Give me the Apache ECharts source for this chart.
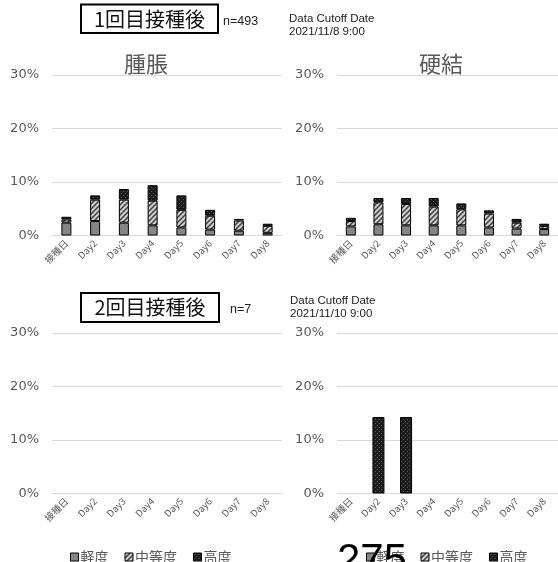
<!DOCTYPE html>
<html>
<head>
<meta charset="utf-8">
<script src="https://cdn.jsdelivr.net/npm/echarts@6/dist/echarts.min.js"></script>
<style>
  html, body { margin: 0; padding: 0; background: #fff; }
  #chart { width: 558px; height: 562px; }
</style>
</head>
<body>
<div id="chart"></div>
<script>
// Days after vaccination
const categories = ['接種日', 'Day2', 'Day3', 'Day4', 'Day5', 'Day6', 'Day7', 'Day8'];
const severityNames = ['軽度', '中等度', '高度'];
const yTicks = [0, 10, 20, 30];

// After 1st dose (n=493), swelling, % of subjects
const dose1SwellMild     = [2.4, 2.7, 2.4, 1.9, 1.5, 1.1, 0.9, 0.5];
const dose1SwellModerate = [0.6, 4.0, 4.3, 4.6, 3.3, 2.6, 1.9, 1.3];
const dose1SwellSevere   = [0.5, 0.8, 2.0, 2.9, 2.7, 1.1, 0.3, 0.4];

// After 1st dose (n=493), induration, %
const dose1IndurMild     = [1.7, 2.1, 1.9, 1.9, 1.9, 1.5, 1.3, 1.2];
const dose1IndurModerate = [1.0, 4.1, 4.0, 3.5, 3.0, 2.6, 1.1, 0.6];
const dose1IndurSevere   = [0.6, 0.8, 1.1, 1.6, 1.1, 0.6, 0.7, 0.4];

// After 2nd dose (n=7), swelling, %
const dose2SwellMild     = [0, 0, 0, 0, 0, 0, 0, 0];
const dose2SwellModerate = [0, 0, 0, 0, 0, 0, 0, 0];
const dose2SwellSevere   = [0, 0, 0, 0, 0, 0, 0, 0];

// After 2nd dose (n=7), induration, %
const dose2IndurMild     = [0, 0, 0, 0, 0, 0, 0, 0];
const dose2IndurModerate = [0, 0, 0, 0, 0, 0, 0, 0];
const dose2IndurSevere   = [0, 14.3, 14.3, 0, 0, 0, 0, 0];

// ---- fill patterns ----
function makePattern(size, draw) {
  const c = document.createElement('canvas');
  c.width = size; c.height = size;
  const g = c.getContext('2d');
  draw(g, size);
  return { image: c, repeat: 'repeat' };
}
const mildFill = makePattern(4, (g, s) => {
  g.fillStyle = '#878787'; g.fillRect(0, 0, s, s);
  g.fillStyle = '#7a7a7a'; g.fillRect(0, 0, 1, 1); g.fillRect(2, 2, 1, 1);
});
const moderateFill = makePattern(5, (g, s) => {
  g.fillStyle = '#cfcfcf'; g.fillRect(0, 0, s, s);
  g.strokeStyle = '#3f3f3f'; g.lineWidth = 1.5;
  g.beginPath();
  g.moveTo(-1, s + 1); g.lineTo(s + 1, -1);
  g.moveTo(-1, 1); g.lineTo(1, -1);
  g.moveTo(s - 1, s + 1); g.lineTo(s + 1, s - 1);
  g.stroke();
});
const severeFill = makePattern(4, (g, s) => {
  g.fillStyle = '#1c1c1c'; g.fillRect(0, 0, s, s);
  g.fillStyle = '#5a5a5a'; g.fillRect(1, 1, 1, 1); g.fillRect(3, 3, 1, 1);
});
const fills = [mildFill, moderateFill, severeFill];

const FONT = '"Noto Sans CJK JP", "Noto Sans", sans-serif';
const GREY = '#595959';

const panels = [
  { left: 52,  top: 75,  bars: [dose1SwellMild, dose1SwellModerate, dose1SwellSevere], barWidth: 10 },
  { left: 337, top: 75,  bars: [dose1IndurMild, dose1IndurModerate, dose1IndurSevere], barWidth: 10 },
  { left: 52,  top: 333, bars: [dose2SwellMild, dose2SwellModerate, dose2SwellSevere], barWidth: 12 },
  { left: 337, top: 333, bars: [dose2IndurMild, dose2IndurModerate, dose2IndurSevere], barWidth: 12 }
];

const grid = [], xAxis = [], yAxis = [], series = [];
panels.forEach((p, i) => {
  grid.push({ left: p.left, top: p.top, width: 230, height: 160.5 });
  xAxis.push({
    type: 'category', gridIndex: i, data: categories,
    axisLine: { lineStyle: { color: '#d9d9d9' } },
    axisTick: { show: false },
    axisLabel: { rotate: 45, color: GREY, fontSize: 9.5, fontFamily: FONT, margin: 6, interval: 0 }
  });
  yAxis.push({
    type: 'value', gridIndex: i, min: yTicks[0], max: yTicks[yTicks.length - 1], interval: 10,
    axisLine: { show: false }, axisTick: { show: false },
    splitLine: { lineStyle: { color: '#d9d9d9', width: 1 } },
    axisLabel: { color: GREY, fontSize: 13, fontFamily: 'DejaVu Sans', margin: 13, formatter: '{value}%' }
  });
  p.bars.forEach((vals, k) => {
    series.push({
      type: 'bar', name: severityNames[k], xAxisIndex: i, yAxisIndex: i,
      stack: 'panel' + i, barWidth: p.barWidth,
      data: vals.map(v => (v === 0 ? '-' : v)),
      itemStyle: { color: fills[k], borderColor: '#000', borderWidth: 1 },
      emphasis: { disabled: true }
    });
  });
});

function txt(x, y, text, size, color, opts) {
  return {
    type: 'text', x: x, y: y, z: 10,
    style: Object.assign({ text: text, fontSize: size, fill: color, fontFamily: FONT,
      textAlign: 'left', textVerticalAlign: 'middle' }, opts || {})
  };
}
function box(x, y, w, h) {
  return { type: 'rect', shape: { x: x, y: y, width: w, height: h }, z: 9,
    style: { fill: '#fff', stroke: '#000', lineWidth: 2 } };
}

const graphic = [
  box(81, 4.5, 137, 28.5),
  txt(149.5, 19, '1回目接種後', 20, '#111', { textAlign: 'center' }),
  txt(223, 22, 'n=493', 12.5, '#222', { fontFamily: 'Liberation Sans' }),
  txt(289, 19, 'Data Cutoff Date', 11.5, '#222', { fontFamily: 'Liberation Sans' }),
  txt(289, 32, '2021/11/8 9:00', 11.5, '#222', { fontFamily: 'Liberation Sans' }),
  txt(146, 64, '腫脹', 22, GREY, { textAlign: 'center' }),
  txt(441, 64, '硬結', 22, GREY, { textAlign: 'center' }),
  box(81, 293, 138, 29),
  txt(150, 307.5, '2回目接種後', 20, '#111', { textAlign: 'center' }),
  txt(230, 310, 'n=7', 12.5, '#222', { fontFamily: 'Liberation Sans' }),
  txt(290, 301, 'Data Cutoff Date', 11.5, '#222', { fontFamily: 'Liberation Sans' }),
  txt(290, 314, '2021/11/10 9:00', 11.5, '#222', { fontFamily: 'Liberation Sans' }),
  Object.assign(txt(337, 561, '275', 42, '#000', { fontFamily: 'Liberation Sans' }), { z: 100 })
];

const legendCommon = {
  data: severityNames, top: 550, padding: 0, itemWidth: 8, itemHeight: 8, itemGap: 16,
  icon: 'rect', selectedMode: false,
  itemStyle: { borderColor: '#000', borderWidth: 1 },
  textStyle: { color: GREY, fontSize: 14, fontFamily: FONT, padding: [0, 0, 0, -3] }
};

const chart = echarts.init(document.getElementById('chart'), null, { renderer: 'canvas' });
chart.setOption({
  animation: false,
  backgroundColor: '#fff',
  grid: grid, xAxis: xAxis, yAxis: yAxis, series: series,
  legend: [
    Object.assign({ left: 70 }, legendCommon),
    Object.assign({ left: 366, z: 2 }, legendCommon)
  ],
  graphic: graphic
});
</script>
</body>
</html>
